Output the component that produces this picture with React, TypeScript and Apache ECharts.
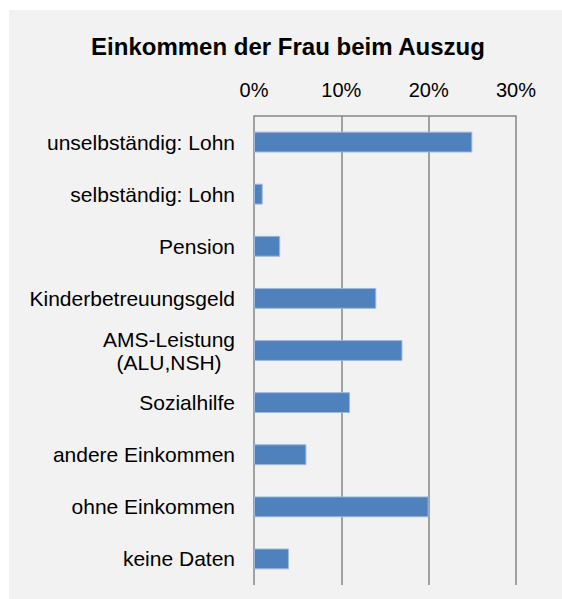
import React, { useEffect, useRef } from "react";
import * as echarts from "echarts";

const titleText = "Einkommen der Frau beim Auszug";
const categories = [
  "unselbständig: Lohn",
  "selbständig: Lohn",
  "Pension",
  "Kinderbetreuungsgeld",
  "AMS-Leistung\n(ALU,NSH)",
  "Sozialhilfe",
  "andere Einkommen",
  "ohne Einkommen",
  "keine Daten",
];
const values = [25, 1, 3, 14, 17, 11, 6, 20, 4];
const axisMin = 0;
const axisMax = 30;
const axisStep = 10;

const FONT = "'Liberation Sans', Arial, sans-serif";

export default function App() {
  const ref = useRef<HTMLDivElement>(null);
  useEffect(() => {
    if (!ref.current) return;
    const chart = echarts.init(ref.current, undefined, { renderer: "svg" });
    chart.setOption({
      animation: false,
      backgroundColor: "#ffffff",
      graphic: [
        {
          type: "rect",
          z: -10,
          silent: true,
          shape: { x: 9, y: 10, width: 553, height: 589 },
          style: { fill: "#f2f2f2" },
        },
      ],
      title: {
        text: titleText,
        left: 283,
        top: 29,
        textAlign: "center",
        textStyle: {
          fontFamily: FONT,
          fontWeight: "bold",
          fontSize: 24,
          color: "#000000",
        },
      },
      grid: { left: 254, top: 116, right: 46, bottom: 14, containLabel: false },
      xAxis: {
        type: "value",
        position: "top",
        min: axisMin,
        max: axisMax,
        interval: axisStep,
        axisLine: { show: true, lineStyle: { color: "#868686", width: 1.5 } },
        axisTick: { show: false },
        axisLabel: {
          formatter: "{value}%",
          color: "#000000",
          fontFamily: FONT,
          fontSize: 20,
          margin: 16,
        },
        splitLine: { show: true, lineStyle: { color: "#868686", width: 1.5 } },
      },
      yAxis: {
        type: "category",
        data: categories,
        inverse: true,
        axisLine: { show: false },
        axisTick: { show: false },
        axisLabel: {
          color: "#000000",
          fontFamily: FONT,
          fontSize: 21,
          margin: 19,
          formatter: (v: string) =>
            v.indexOf("\n") >= 0
              ? v.split("\n").map((s) => `{c|${s}}`).join("\n")
              : v,
          rich: {
            c: {
              align: "center",
              color: "#000000",
              fontFamily: FONT,
              fontSize: 21,
              lineHeight: 23,
            },
          },
        },
      },
      series: [
        {
          type: "bar",
          data: values,
          barCategoryGap: "60%",
          itemStyle: {
            color: "#4f81bd",
            borderColor: "#9db8dc",
            borderWidth: 1,
          },
        },
      ],
    });
    return () => chart.dispose();
  }, []);
  return (
    <div
      ref={ref}
      style={{ position: "absolute", left: 0, top: 0, width: 562, height: 599 }}
    />
  );
}
